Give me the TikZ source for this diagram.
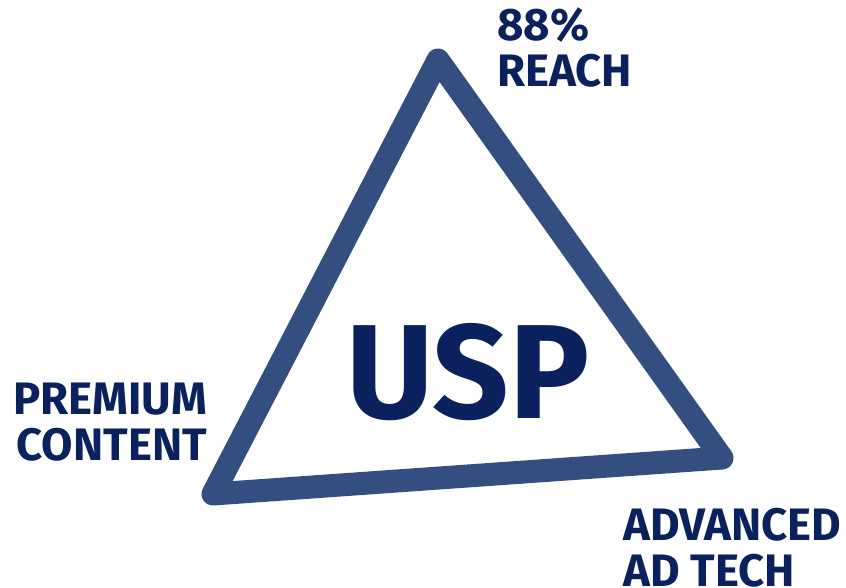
\documentclass[tikz,border=0pt]{standalone}
\usepackage{fontspec}
\setmainfont{Fira Sans}
\definecolor{tri}{HTML}{344E80}
\definecolor{txt}{HTML}{0B215E}
\begin{document}
\begin{tikzpicture}[x=1pt,y=-1pt,
  lbl/.style={font=\bfseries\fontsize{45.5}{45.5}\selectfont, text=txt, inner sep=0pt},
  big/.style={font=\bfseries\fontsize{134}{134}\selectfont, text=txt, inner sep=0pt}]
\useasboundingbox (0,0) rectangle (846,587);
\coordinate (A) at (438,60);
\coordinate (B) at (213,494);
\coordinate (C) at (722,458);
\draw[tri, line width=23pt, line join=round] (A) -- (B) -- (C) -- cycle;
\node[big, anchor=base] (usp) at (468,418) {USP};
\node[lbl, anchor=base west, align=left] (reach) at (497,86) {88\%\\REACH};
\node[lbl, anchor=base east, align=right] (prem) at (207,460) {PREMIUM\\CONTENT};
\node[lbl, anchor=base west, align=left] (adv) at (623,586) {ADVANCED\\AD TECH};
\end{tikzpicture}
\end{document}
